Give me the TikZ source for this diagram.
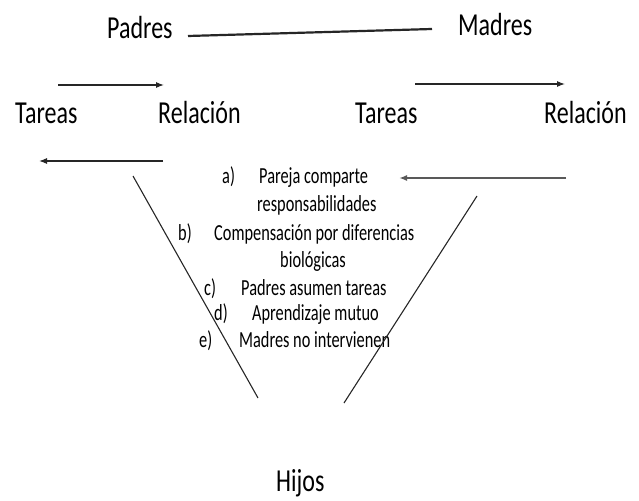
\documentclass[tikz,border=0pt]{standalone}
\usepackage{fontspec}
\setmainfont{Carlito}
\usetikzlibrary{arrows.meta}
\newcommand{\sq}[1]{\scalebox{0.71}[1]{#1}}
\newcommand{\sqb}[1]{\scalebox{0.75}[1]{#1}}
\tikzset{
  big/.style={inner sep=0pt, anchor=base west, font=\fontsize{32}{38}\selectfont},
  small/.style={inner sep=0pt, anchor=base west, font=\fontsize{23}{27}\selectfont},
  thin/.style={line width=1.1pt, black!85},
  arr/.style={line width=1.1pt, black!85, -{Latex[length=8pt,width=6pt]}},
}
\begin{document}
\begin{tikzpicture}[x=1pt,y=-1pt]
\useasboundingbox (0,0) rectangle (639,500);
% headers
\node[big] (padres) at (107,39) {\sqb{Padres}};
\node[big] (madres) at (458,36) {\sqb{Madres}};
\node[big] (tar1) at (15,124) {\sqb{Tareas}};
\node[big] (rel1) at (158,124) {\sqb{Relación}};
\node[big] (tar2) at (355,124) {\sqb{Tareas}};
\node[big] (rel2) at (544,124) {\sqb{Relación}};
\node[big] (hijos) at (276,491) {\sqb{Hijos}};
% list
\node[small] (la) at (222,183) {\sq{a)}};
\node[small] (ta) at (259,183) {\sq{Pareja comparte}};
\node[small] (ta2) at (257,211) {\sq{responsabilidades}};
\node[small] (lb) at (178,240) {\sq{b)}};
\node[small] (tb) at (214,240) {\sq{Compensación por diferencias}};
\node[small] (tb2) at (280,267) {\sq{biológicas}};
\node[small] (lc) at (204,295) {\sq{c)}};
\node[small] (tc) at (241,295) {\sq{Padres asumen tareas}};
\node[small] (ld) at (214,320) {\sq{d)}};
\node[small] (td) at (252,320) {\sq{Aprendizaje mutuo}};
\node[small] (le) at (199,347) {\sq{e)}};
\node[small] (te) at (239,347) {\sq{Madres no intervienen}};
% connector coordinates
\coordinate (pm1) at (188,36);
\coordinate (pm2) at (432,29);
\coordinate (a1s) at (58,85);
\coordinate (a1e) at (164,85);
\coordinate (a2s) at (415,84);
\coordinate (a2e) at (565,84);
\coordinate (a3s) at (163,161);
\coordinate (a3e) at (39,161);
\coordinate (a4s) at (566,178);
\coordinate (a4e) at (399,178);
\coordinate (v1a) at (133,176);
\coordinate (v1b) at (258,398);
\coordinate (v2a) at (477,196);
\coordinate (v2b) at (344,403);
\draw[line width=2.2pt, black!85] (pm1) -- (pm2);
\draw[arr] (a1s) -- (a1e);
\draw[arr] (a2s) -- (a2e);
\draw[arr] (a3s) -- (a3e);
\draw[arr, line width=1.8pt, black!65] (a4s) -- (a4e);
\draw[thin] (v1a) -- (v1b);
\draw[thin] (v2a) -- (v2b);
\end{tikzpicture}
\end{document}
